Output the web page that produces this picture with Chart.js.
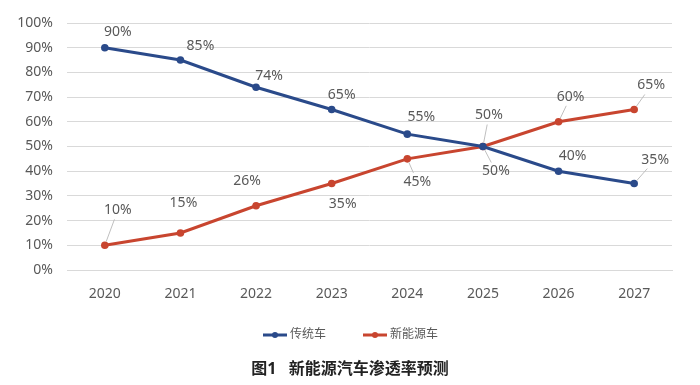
<!DOCTYPE html>
<html><head><meta charset="utf-8">
<script src="https://cdn.jsdelivr.net/npm/chart.js@4.4.1/dist/chart.umd.min.js"></script>
<style>html,body{margin:0;padding:0;background:#fff}#wrap{width:700px;height:385px}</style>
</head><body><div id="wrap"><canvas id="c" width="700" height="385"></canvas></div>
<script>
const years = ['2020','2021','2022','2023','2024','2025','2026','2027'];
const traditional = [90, 85, 74, 65, 55, 50, 40, 35];
const newEnergy = [10, 15, 26, 35, 45, 50, 60, 65];
const yTicks = [0,10,20,30,40,50,60,70,80,90,100];
const seriesNames = ['传统车', '新能源车'];
const chartTitle = '图1   新能源汽车渗透率预测';

// label placement (pixel offsets from point) and leader line flags
const labelOffsets = [
  [[13,-16,0],[20,-14,0],[13,-11,0],[10,-14,0],[14,-17,0],[13,25,1],[14,-15,0],[21,-24,1]],
  [[13,-35,1],[3,-30,0],[-9,-25,0],[11,20,0],[10,23,1],[6,-31,1],[12,-25,1],[17,-24,1]]
];

const FONT = '"Noto Sans", "Noto Sans CJK SC", sans-serif';
const labelPlugin = {
  id: 'labels',
  afterDatasetsDraw(chart) {
    const ctx = chart.ctx;
    ctx.save();
    ctx.font = '14px ' + FONT;
    ctx.textAlign = 'center';
    ctx.textBaseline = 'middle';
    chart.data.datasets.forEach((ds, di) => {
      const meta = chart.getDatasetMeta(di);
      meta.data.forEach((pt, i) => {
        const [dx, dy, lead] = labelOffsets[di][i];
        const txt = ds.data[i] + '%';
        const lx = pt.x + dx, ly = pt.y + dy;
        if (lead) {
          const w = ctx.measureText(txt).width / 2 + 2, h = 9;
          const vx = lx - pt.x, vy = ly - pt.y;
          const len = Math.hypot(vx, vy);
          const tx = Math.abs(vx) > 0 ? w / Math.abs(vx) : Infinity;
          const ty = Math.abs(vy) > 0 ? h / Math.abs(vy) : Infinity;
          const t = Math.min(tx, ty);
          const ex = lx - vx * t, ey = ly - vy * t;
          const sx = pt.x + vx / len * 4, sy = pt.y + vy / len * 4;
          ctx.strokeStyle = '#bfbfbf';
          ctx.lineWidth = 1;
          ctx.beginPath(); ctx.moveTo(sx, sy); ctx.lineTo(ex, ey); ctx.stroke();
        }
        ctx.fillStyle = '#595959';
        ctx.fillText(txt, lx, ly);
      });
    });
    ctx.restore();
  },
  afterDraw(chart) {
    const ctx = chart.ctx;
    ctx.save();
    // legend
    const items = [{x: 263}, {x: 363}];
    ctx.font = '12px ' + FONT;
    ctx.textBaseline = 'middle';
    ctx.textAlign = 'left';
    chart.data.datasets.forEach((ds, di) => {
      const x0 = items[di].x, y = 335;
      ctx.strokeStyle = ds.borderColor; ctx.lineWidth = 3;
      ctx.beginPath(); ctx.moveTo(x0, y); ctx.lineTo(x0 + 24, y); ctx.stroke();
      ctx.fillStyle = ds.borderColor;
      ctx.beginPath(); ctx.arc(x0 + 12, y, 3, 0, Math.PI * 2); ctx.fill();
      ctx.fillStyle = '#595959';
      ctx.fillText(ds.label, x0 + 27, y);
    });
    // title
    ctx.font = 'bold 16px ' + FONT;
    ctx.fillStyle = '#222';
    ctx.textAlign = 'center';
    ctx.fillText(chartTitle, 350, 369);
    ctx.restore();
  }
};

new Chart(document.getElementById('c'), {
  type: 'line',
  data: {
    labels: years,
    datasets: [
      { label: seriesNames[0], data: traditional, borderColor: '#2a4a8a', backgroundColor: '#2a4a8a',
        borderWidth: 3, pointRadius: 3.8, pointBackgroundColor: '#2a4a8a', pointBorderWidth: 0, tension: 0 },
      { label: seriesNames[1], data: newEnergy, borderColor: '#c8452f', backgroundColor: '#c8452f',
        borderWidth: 3, pointRadius: 3.8, pointBackgroundColor: '#c8452f', pointBorderWidth: 0, tension: 0 }
    ]
  },
  options: {
    responsive: false,
    animation: false,
    devicePixelRatio: 1,
    layout: { padding: { left: 0, right: 28, top: 23, bottom: 85 } },
    plugins: { legend: { display: false }, title: { display: false }, tooltip: { enabled: false } },
    scales: {
      x: {
        offset: true,
        grid: { display: false },
        border: { display: true, color: '#d9d9d9', width: 1 },
        ticks: { color: '#595959', font: { size: 14, family: FONT }, padding: 8 },
        afterFit(s) { s.height = 30; }
      },
      y: {
        min: 0, max: 100,
        afterBuildTicks(s) { s.ticks = yTicks.map(v => ({ value: v })); },
        grid: { color: '#d9d9d9', drawTicks: false },
        border: { display: false },
        ticks: { color: '#595959', font: { size: 14, family: FONT }, padding: 14, callback: v => v + '%' },
        afterFit(s) { s.width = 67; }
      }
    }
  },
  plugins: [labelPlugin]
});
</script></body></html>
